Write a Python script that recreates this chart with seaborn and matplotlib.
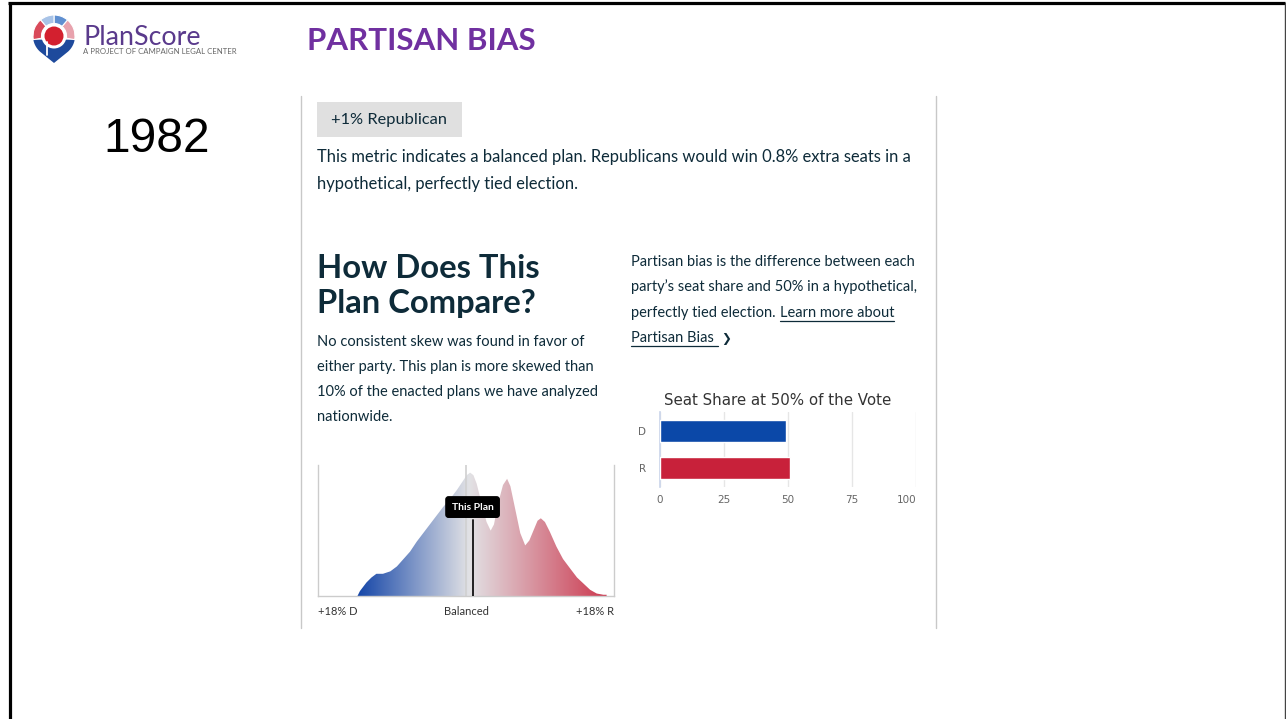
import numpy as np
import pandas as pd
import matplotlib
matplotlib.use("Agg")
import matplotlib.pyplot as plt
import seaborn as sns
from matplotlib.patches import Wedge, Circle, Polygon, Rectangle
from matplotlib.colors import LinearSegmentedColormap

# ---------------- data ----------------
year = "1982"
bias_label = "+1% Republican"
bias_x = [-13.2, -12.9, -12.1, -11.5, -10.9, -10.1, -9.2, -8.4, -7.6, -6.8,
          -6.0, -5.2, -4.4, -3.6, -2.8, -1.9, -1.1, -0.3, 0.1, 0.5,
          0.9, 1.3, 1.9, 2.5, 3.0, 3.4, 3.9, 4.5, 5.0, 5.4,
          6.0, 6.6, 7.2, 7.7, 8.2, 8.7, 9.1, 9.6, 10.2, 11.0,
          11.8, 12.7, 13.5, 14.3, 15.1, 15.9, 16.7, 17.1]
bias_density = [0.0, 0.04, 0.11, 0.15, 0.18, 0.18, 0.20, 0.24, 0.30, 0.36,
                0.44, 0.51, 0.58, 0.65, 0.72, 0.79, 0.86, 0.94, 0.98, 1.00,
                0.98, 0.91, 0.75, 0.60, 0.53, 0.58, 0.75, 0.90, 0.95, 0.89,
                0.70, 0.51, 0.41, 0.45, 0.53, 0.61, 0.63, 0.60, 0.52, 0.40,
                0.30, 0.22, 0.15, 0.10, 0.05, 0.02, 0.01, 0.01]
plan_bias = 0.8
dist_ticks = [-18, 0, 18]
dist_tick_labels = ["+18% D", "Balanced", "+18% R"]
parties = ["D", "R"]
seat_share = [49.2, 50.8]
seat_ticks = [0, 25, 50, 75, 100]

# ---------------- style ----------------
W, H = 1286, 719
sns.set_theme(style="white")
plt.rcParams['font.family'] = ['Lato', 'DejaVu Sans']
TXT = '#0e2b39'
PURPLE = '#7030a0'
BLUE = '#0b48a8'
RED = '#c8213a'

fig = plt.figure(figsize=(W / 100, H / 100), dpi=100)
fig.patch.set_facecolor('white')

def px_rect(l, t, r, b):
    return [l / W, 1 - b / H, (r - l) / W, (b - t) / H]

ax_bg = fig.add_axes([0, 0, 1, 1])
ax_bg.set_xlim(0, W)
ax_bg.set_ylim(H, 0)
ax_bg.axis('off')

# slide border
ax_bg.plot([8, 1285], [3, 3], color='black', lw=2.3, solid_capstyle='butt')
ax_bg.plot([9.5, 9.5], [3, H], color='black', lw=2.3, solid_capstyle='butt')
ax_bg.plot([1285, 1285], [3, H], color='#444444', lw=1.0)

# separators
for xs in (300.5, 935.5):
    ax_bg.plot([xs, xs], [96, 628], color='#c8c8c8', lw=1.0)

# ---------------- logo ----------------
cx, cy = 54, 36
R_out, R_in = 21, 12.5

def wedge(a1, a2, color):
    ax_bg.add_patch(Wedge((cx, cy), R_out, -a2, -a1, width=R_out - R_in,
                          fc=color, ec='white', lw=0.8))

ang = np.deg2rad(np.linspace(190, 228.6, 20))
ang2 = np.deg2rad(np.linspace(311.4, 350, 20))
pts = [(cx + R_out * np.cos(a), cy - R_out * np.sin(a)) for a in ang]
pts.append((cx, 63))
pts += [(cx + R_out * np.cos(a), cy - R_out * np.sin(a)) for a in ang2]
ax_bg.add_patch(Polygon(pts, closed=True, fc='#1e4a9c', ec='none'))
wedge(-10, 50, '#e8a2ad')
wedge(50, 90, '#5f8fd0')
wedge(90, 130, '#a8c3e7')
wedge(130, 190, '#d94a5a')
ax_bg.add_patch(Circle((cx, cy), R_in, fc='white', ec='none'))
ax_bg.add_patch(Circle((cx, cy), 9.5, fc='#d3202f', ec='none'))
ax_bg.plot([cx - 7.5, cx - 7.5], [cy + 6, cy + 19], color='white', lw=1.3)

ax_bg.text(83, 45, "PlanScore", fontsize=19.3, color='#5a3a8c', va='baseline', ha='left')
ax_bg.text(83, 54.5, "A PROJECT OF CAMPAIGN LEGAL CENTER", fontsize=5.6, color='#666666',
           va='baseline', ha='left')
ax_bg.text(307, 50, "PARTISAN BIAS", fontsize=22.5, fontweight='bold', color=PURPLE,
           va='baseline', ha='left')
ax_bg.text(103, 152, year, fontsize=34.5, color='black', va='baseline', ha='left',
           family=['Liberation Sans', 'DejaVu Sans'])

# metric box
ax_bg.add_patch(Rectangle((317, 102), 145, 35, fc='#e0e0e0', ec='none'))
ax_bg.text(331, 124, bias_label, fontsize=11.8, color=TXT, va='baseline', ha='left')
ax_bg.text(317, 162, "This metric indicates a balanced plan. Republicans would win 0.8% extra seats in a",
           fontsize=11.9, color=TXT, va='baseline', ha='left')
ax_bg.text(317, 189, "hypothetical, perfectly tied election.", fontsize=11.9, color=TXT,
           va='baseline', ha='left')

# heading
ax_bg.text(317, 278, "How Does This", fontsize=23.6, fontweight='bold', color=TXT, va='baseline')
ax_bg.text(317, 313, "Plan Compare?", fontsize=23.6, fontweight='bold', color=TXT, va='baseline')

left_lines = ["No consistent skew was found in favor of",
              "either party. This plan is more skewed than",
              "10% of the enacted plans we have analyzed",
              "nationwide."]
for i, ln in enumerate(left_lines):
    ax_bg.text(317, 346 + 25 * i, ln, fontsize=10.5, color=TXT, va='baseline')

PFS = 10.5
right_lines = ["Partisan bias is the difference between each",
               "party\u2019s seat share and 50% in a hypothetical,"]
for i, ln in enumerate(right_lines):
    ax_bg.text(631, 266 + 25 * i, ln, fontsize=PFS, color=TXT, va='baseline')

renderer = fig.canvas.get_renderer()
t3 = ax_bg.text(631, 317, "perfectly tied election.", fontsize=PFS, color=TXT, va='baseline')
x_end = t3.get_window_extent(renderer=renderer).x1 + 4
t4 = ax_bg.text(x_end, 317, "Learn more about", fontsize=PFS, color=TXT, va='baseline')
e4 = t4.get_window_extent(renderer=renderer)
ax_bg.plot([e4.x0, e4.x1], [320.5, 320.5], color=TXT, lw=0.9)
t5 = ax_bg.text(631, 342, "Partisan Bias", fontsize=PFS, color=TXT, va='baseline')
e5 = t5.get_window_extent(renderer=renderer)
ax_bg.plot([e5.x0, e5.x1 + 4], [345.5, 345.5], color=TXT, lw=0.9)
ax_bg.text(e5.x1 + 7, 342, "\u276F", fontsize=8.5, fontweight='bold', color=TXT, va='baseline',
           family=['DejaVu Sans'])

# bar title
ax_bg.text(778, 405, "Seat Share at 50% of the Vote", fontsize=10.8, color='#333333',
           ha='center', va='baseline', family=['DejaVu Sans'])

# ---------------- density chart ----------------
ax_d = fig.add_axes(px_rect(318, 465, 614, 596))
ymax = 1.062
cmap = LinearSegmentedColormap.from_list(
    'pb', [(0, '#1546a8'), (0.133, '#1546a8'), (0.511, '#e2e2e5'),
           (0.975, '#cc3a50'), (1, '#cc3a50')])
grad = np.linspace(0, 1, 512)[None, :]
im = ax_d.imshow(grad, extent=[-18, 18, 0, ymax], aspect='auto', cmap=cmap,
                 origin='lower', zorder=1)
verts = [(bias_x[0], 0)] + list(zip(bias_x, bias_density)) + [(bias_x[-1], 0)]
poly = Polygon(verts, closed=True, fc='none', ec='none')
ax_d.add_patch(poly)
im.set_clip_path(poly)
ax_d.set_xlim(-18, 18)
ax_d.set_ylim(0, ymax)
ax_d.axvline(0, color='#d0d0d0', lw=1.2, zorder=2)
ax_d.plot([plan_bias, plan_bias], [0, 0.58 * ymax], color='#111111', lw=1.3, zorder=3)
ax_d.text(plan_bias, 0.679 * ymax, "This Plan", ha='center', va='center', color='white',
          fontsize=7.5, fontweight='bold', zorder=4,
          bbox=dict(boxstyle='round,pad=0.55,rounding_size=0.25', fc='black', ec='black'))
for s in ['left', 'right', 'bottom']:
    ax_d.spines[s].set_color('#cccccc')
    ax_d.spines[s].set_linewidth(1.0)
ax_d.spines['top'].set_visible(False)
ax_d.set_yticks([])
ax_d.set_xticks(dist_ticks)
ax_d.set_xticklabels(dist_tick_labels)
ax_d.tick_params(axis='x', length=0, pad=7, labelsize=8, labelcolor='#333333')
labs = ax_d.get_xticklabels()
labs[0].set_ha('left')
labs[-1].set_ha('right')
ax_d.set_facecolor('white')

# ---------------- bar chart ----------------
ax_b = fig.add_axes(px_rect(660, 412, 916, 487))
df = pd.DataFrame({'party': parties, 'share': seat_share})
sns.barplot(data=df, x='share', y='party', hue='party', palette=[BLUE, RED],
            orient='h', width=0.6, saturation=1, legend=False, ax=ax_b, zorder=3)
ax_b.set_xlim(0, 100)
ax_b.set_ylim(1.51, -0.51)
ax_b.set_xticks(seat_ticks)
ax_b.grid(axis='x', color='#e6e6e6', lw=1.0, zorder=0)
ax_b.set_axisbelow(True)
for s in ['top', 'right', 'bottom']:
    ax_b.spines[s].set_visible(False)
ax_b.spines['left'].set_color('#ccd6eb')
ax_b.set_xlabel('')
ax_b.set_ylabel('')
ax_b.tick_params(axis='x', length=0, pad=6, labelsize=7.5, labelcolor='#666666')
ax_b.tick_params(axis='y', length=0, pad=10, labelsize=7.5, labelcolor='#666666')
for lab in ax_b.get_xticklabels() + ax_b.get_yticklabels():
    lab.set_family(['DejaVu Sans'])
ax_b.get_xticklabels()[-1].set_ha('right')

fig.savefig('out.png', dpi=100, facecolor='white')
